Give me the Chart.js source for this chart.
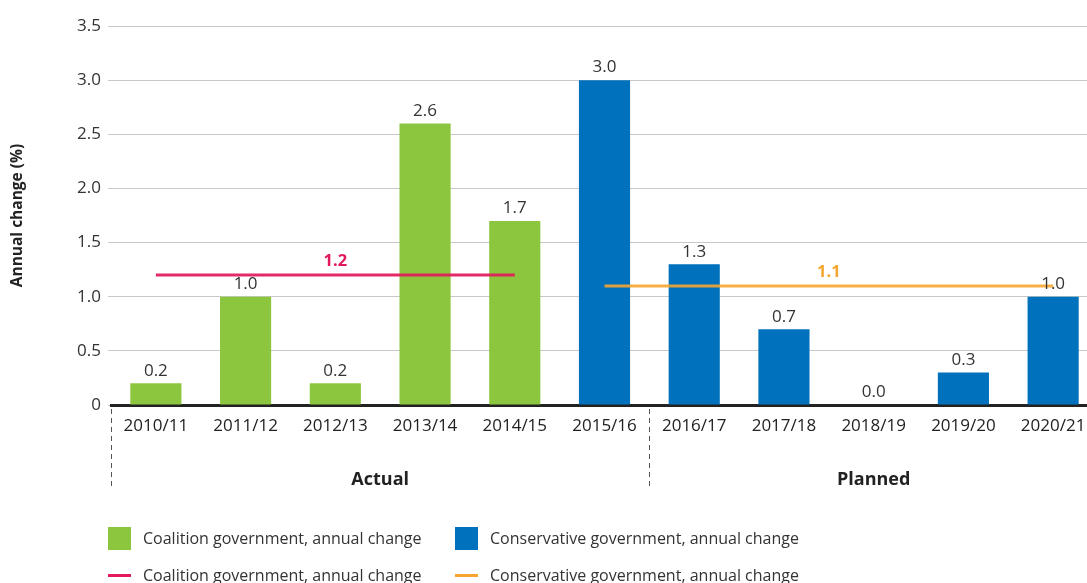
<!DOCTYPE html>
<html lang="en">
<head>
<meta charset="utf-8">
<title>Annual change (%)</title>
<script src="https://cdn.jsdelivr.net/npm/chart.js@4.4.1/dist/chart.umd.min.js"></script>
<style>
  html, body { margin: 0; padding: 0; background: #fff; overflow: hidden; }
  #wrap { position: relative; width: 1087px; height: 583px; overflow: hidden; }
  #chart { position: absolute; left: 0; top: 0; }
  .legend-item {
    position: absolute; display: flex; align-items: center; height: 24px;
    font: 16px 'Open Sans', sans-serif; color: #333; white-space: nowrap;
  }
  .swatch-box  { width: 23px; height: 23px; margin-right: 12px; }
  .swatch-line { width: 23px; height: 3px;  margin-right: 12px; }
</style>
</head>
<body>
<div id="wrap">
  <canvas id="chart" width="1100" height="583"></canvas>
  <div id="legend"></div>
</div>
<script>
'use strict';

/* ── DATA ─────────────────────────────────────────────────────── */
const YEARS = ['2010/11', '2011/12', '2012/13', '2013/14', '2014/15', '2015/16',
               '2016/17', '2017/18', '2018/19', '2019/20', '2020/21'];
const CHANGE = [0.2, 1.0, 0.2, 2.6, 1.7, 3.0, 1.3, 0.7, 0.0, 0.3, 1.0];
const GOVERNMENT = ['Coalition', 'Coalition', 'Coalition', 'Coalition', 'Coalition',
                    'Conservative', 'Conservative', 'Conservative', 'Conservative',
                    'Conservative', 'Conservative'];

// average annual change per government
const AVG_GOVERNMENT = ['Coalition', 'Conservative'];
const AVG_VALUE      = [1.2, 1.1];

// period groups under the x axis (first year of each)
const PERIODS      = ['Actual', 'Planned'];
const PERIOD_FIRST = ['2010/11', '2016/17'];

const Y_MIN = 0, Y_MAX = 3.5, Y_STEP = 0.5;

/* ── STYLE ────────────────────────────────────────────────────── */
const FONT = "'Open Sans', sans-serif";
const BAR_COLOR  = { Coalition: '#8cc63f', Conservative: '#0071bc' };
const LINE_COLOR = { Coalition: 'rgba(226,25,91,.92)', Conservative: 'rgba(246,165,48,.9)' };
const LABEL_COLOR = { Coalition: '#e2195b', Conservative: '#f6a530' };

/* ── DATASETS ─────────────────────────────────────────────────── */
const avgDatasets = AVG_GOVERNMENT.map((gov, k) => ({
  type: 'line',
  label: gov + ' government, annual change',
  data: YEARS.map((_, i) => GOVERNMENT[i] === gov ? AVG_VALUE[k] : null),
  borderColor: LINE_COLOR[gov],
  borderWidth: 3,
  pointRadius: 0,
  spanGaps: false,
  order: 0,
  _avg: AVG_VALUE[k],
  _gov: gov,
}));

const barDataset = {
  type: 'bar',
  label: 'Annual change',
  data: CHANGE,
  backgroundColor: GOVERNMENT.map(g => BAR_COLOR[g]),
  barPercentage: 0.57,
  categoryPercentage: 1,
  order: 1,
};

/* ── PLUGIN: value labels, average labels, period groups ─────── */
const annotate = {
  id: 'annotate',
  afterDatasetsDraw(chart) {
    const { ctx, scales: { x }, chartArea } = chart;
    ctx.save();

    // value above each bar
    const barMeta = chart.getDatasetMeta(2);
    ctx.font = `17px ${FONT}`;
    ctx.fillStyle = '#333';
    ctx.textAlign = 'center';
    ctx.textBaseline = 'bottom';
    barMeta.data.forEach((bar, i) => {
      ctx.fillText(CHANGE[i].toFixed(1), bar.x, bar.y - 4);
    });

    // average value above the middle of each average line
    ctx.font = `bold 16.5px ${FONT}`;
    ctx.textBaseline = 'middle';
    avgDatasets.forEach((ds, k) => {
      const pts = chart.getDatasetMeta(k).data.filter((p, i) => ds.data[i] !== null);
      const mid = (pts[0].x + pts[pts.length - 1].x) / 2;
      ctx.fillStyle = LABEL_COLOR[ds._gov];
      ctx.fillText(ds._avg.toFixed(1), mid, pts[0].y - 14);
    });

    // period separators and labels
    const half = (x.getPixelForValue(1) - x.getPixelForValue(0)) / 2;
    const starts = PERIOD_FIRST.map(y => x.getPixelForValue(YEARS.indexOf(y)) - half);
    const ends = starts.slice(1).concat([x.getPixelForValue(YEARS.length - 1) + half]);
    ctx.strokeStyle = '#555';
    ctx.lineWidth = 1;
    ctx.setLineDash([5, 4]);
    starts.forEach(sx => {
      ctx.beginPath();
      ctx.moveTo(Math.round(sx) + 0.5, chartArea.bottom + 4);
      ctx.lineTo(Math.round(sx) + 0.5, chartArea.bottom + 84);
      ctx.stroke();
    });
    ctx.setLineDash([]);
    ctx.font = `bold 18px ${FONT}`;
    ctx.fillStyle = '#222';
    PERIODS.forEach((p, k) => {
      ctx.fillText(p, (starts[k] + ends[k]) / 2, chartArea.bottom + 75);
    });

    ctx.restore();
  },
};

/* ── CHART ────────────────────────────────────────────────────── */
new Chart(document.getElementById('chart'), {
  data: {
    labels: YEARS,
    datasets: [...avgDatasets, barDataset],
  },
  plugins: [annotate],
  options: {
    responsive: false,
    animation: false,
    devicePixelRatio: 1,
    layout: { padding: { top: 26, right: 2, bottom: 0, left: 0 } },
    plugins: {
      legend: { display: false },
      tooltip: { enabled: false },
    },
    scales: {
      x: {
        grid: { display: false, drawTicks: false },
        border: { display: true, color: '#222', width: 3 },
        ticks: { color: '#222', padding: 11, font: { family: FONT, size: 17 } },
        afterFit: s => { s.height = 178; },
      },
      y: {
        min: Y_MIN,
        max: Y_MAX,
        border: { display: false },
        grid: { color: '#c8c8c8', lineWidth: 1, drawTicks: true, tickLength: 3, tickColor: '#c8c8c8' },
        ticks: {
          stepSize: Y_STEP,
          padding: 7,
          color: '#333',
          font: { family: FONT, size: 17 },
          callback: v => v === 0 ? '0' : v.toFixed(1),
        },
        title: {
          display: true,
          text: 'Annual change (%)',
          color: '#222',
          font: { family: FONT, size: 15.5, weight: 'bold' },
          padding: { top: 8, bottom: 0 },
        },
        afterFit: s => { s.width = 111; },
      },
    },
  },
});

/* ── LEGEND (html) ────────────────────────────────────────────── */
const legendEl = document.getElementById('legend');
const legendRows = [
  { kind: 'box',  colors: BAR_COLOR,   top: 526 },
  { kind: 'line', colors: LABEL_COLOR, top: 563 },
];
const legendLeft = { Coalition: 108, Conservative: 455 };
legendRows.forEach(row => {
  AVG_GOVERNMENT.forEach(gov => {
    const item = document.createElement('div');
    item.className = 'legend-item';
    item.style.left = legendLeft[gov] + 'px';
    item.style.top = row.top + 'px';
    const sw = document.createElement('span');
    sw.className = row.kind === 'box' ? 'swatch-box' : 'swatch-line';
    sw.style.background = row.colors[gov];
    const txt = document.createElement('span');
    txt.textContent = gov + ' government, annual change';
    item.append(sw, txt);
    legendEl.appendChild(item);
  });
});
</script>
</body>
</html>
